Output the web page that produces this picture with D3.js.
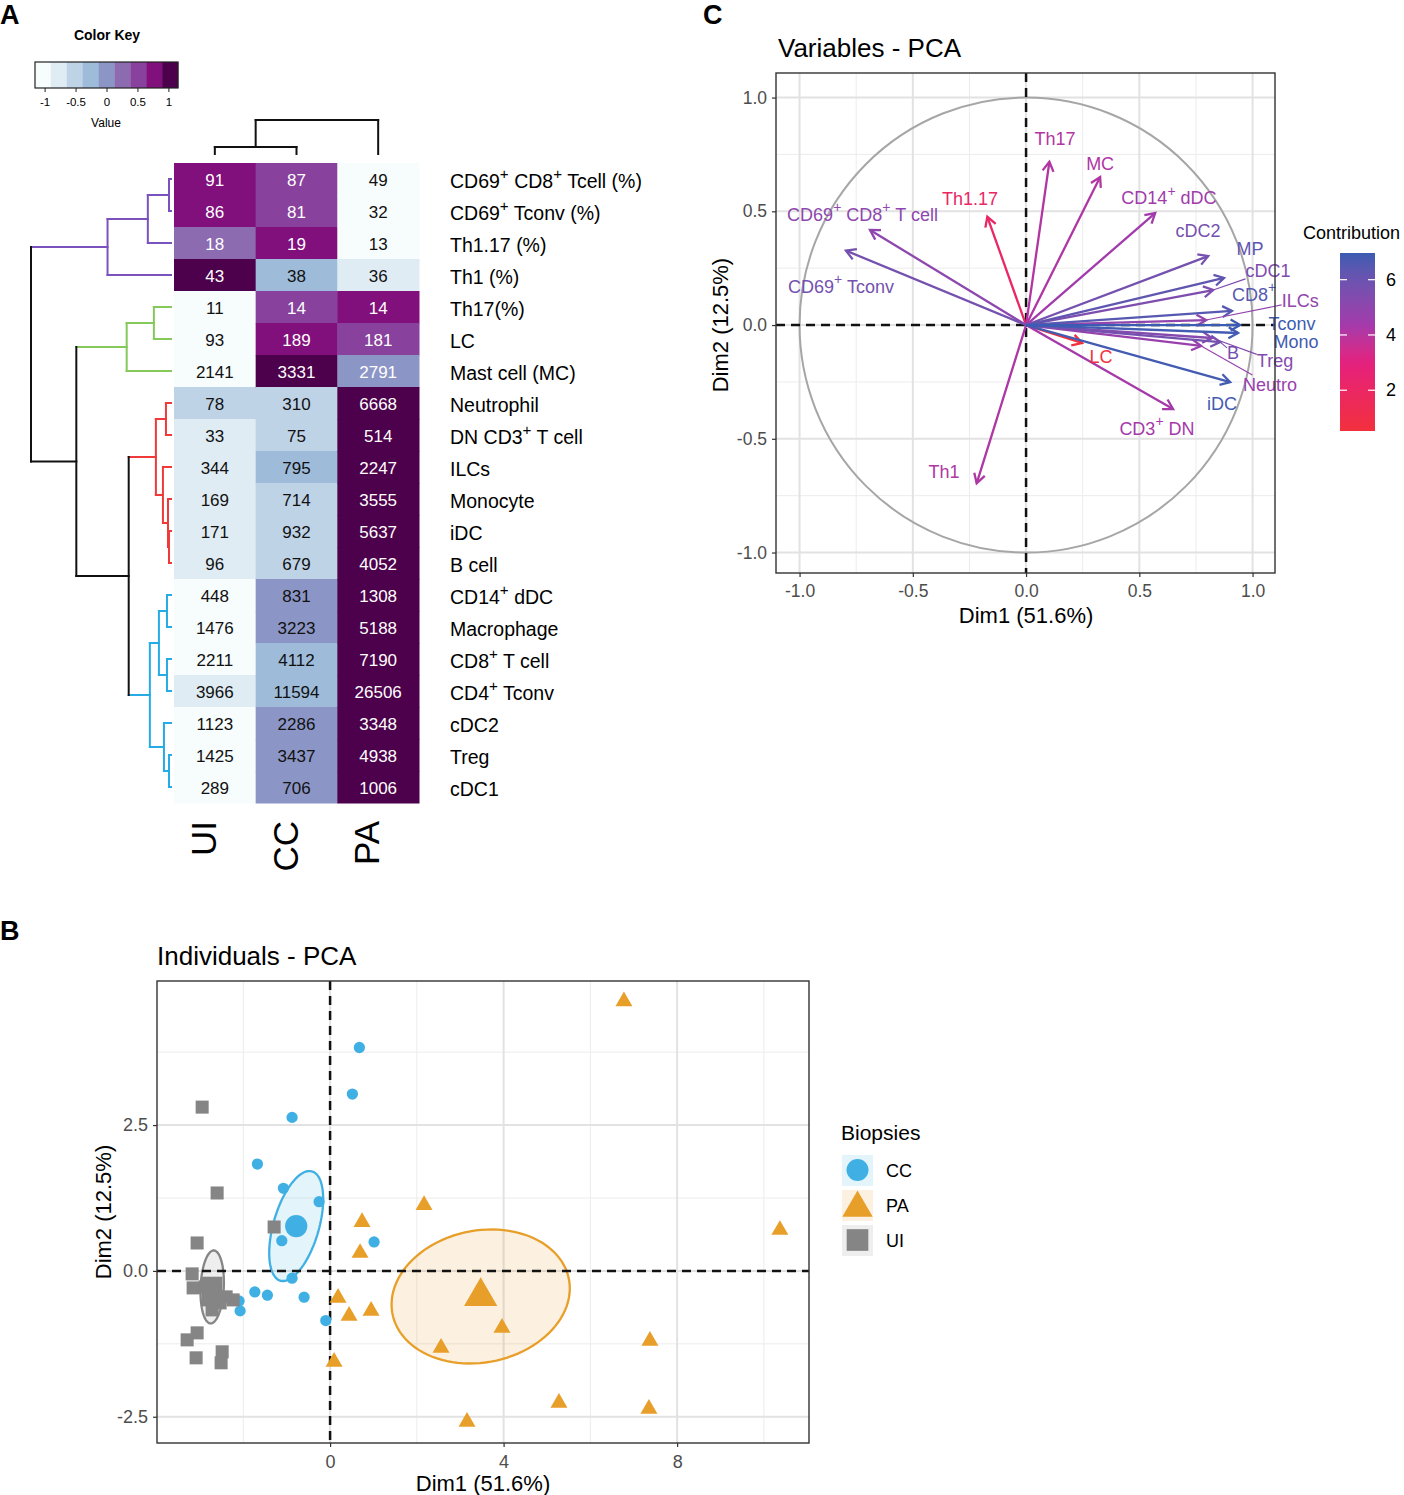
<!DOCTYPE html>
<html>
<head>
<meta charset="utf-8">
<script src="https://cdn.jsdelivr.net/npm/d3@7"></script>
<style>
  body { margin: 0; background: #fff; }
</style>
</head>
<body>
<svg id="fig" width="1404" height="1495"></svg>
<script>
// ---------------- data: heatmap (panel A) ----------------
var rowLabels = ["CD69^+ CD8^+ Tcell (%)", "CD69^+ Tconv (%)", "Th1.17 (%)", "Th1 (%)", "Th17(%)", "LC",
  "Mast cell (MC)", "Neutrophil", "DN CD3^+ T cell", "ILCs", "Monocyte", "iDC", "B cell", "CD14^+ dDC",
  "Macrophage", "CD8^+ T cell", "CD4^+ Tconv", "cDC2", "Treg", "cDC1"];
var colLabels = ["UI", "CC", "PA"];
var valUI = [91, 86, 18, 43, 11, 93, 2141, 78, 33, 344, 169, 171, 96, 448, 1476, 2211, 3966, 1123, 1425, 289];
var valCC = [87, 81, 19, 38, 14, 189, 3331, 310, 75, 795, 714, 932, 679, 831, 3223, 4112, 11594, 2286, 3437, 706];
var valPA = [49, 32, 13, 36, 14, 181, 2791, 6668, 514, 2247, 3555, 5637, 4052, 1308, 5188, 7190, 26506, 3348, 4938, 1006];
// row-scaled value of each cell
var keyUI = [0.75, 0.75, 0.25, 1, -1, -1, -1, -0.5, -0.75, -0.75, -0.75, -0.75, -0.75, -1, -1, -1, -0.75, -1, -1, -1];
var keyCC = [0.5, 0.5, 0.75, -0.25, 0.5, 0.75, 1, -0.5, -0.5, -0.25, -0.5, -0.5, -0.5, 0, 0, -0.25, -0.25, 0, 0, 0];
var keyPA = [-1, -1, -1, -0.75, 0.75, 0.5, 0.1, 1, 1, 1, 1, 1, 1, 1, 1, 1, 1, 1, 1, 1];
var keyTicks = [-1, -0.5, 0, 0.5, 1];

// dendrograms: h = merge height, k = children (numbers are leaf indices), g = cluster
var rowTree = {h: 139, k: [
  {h: 63, g: "purple", k: [{h: 23, k: [{h: 2, k: [0, 1]}, 2]}, 3]},
  {h: 94, k: [
    {h: 44, g: "green", k: [{h: 17, k: [4, 5]}, 6]},
    {h: 42, k: [
      {h: 15, g: "red", k: [{h: 5, k: [7, 8]}, {h: 8, k: [9, {h: 3, k: [10, {h: 2, k: [11, 12]}]}]}]},
      {h: 21, g: "blue", k: [{h: 12, k: [{h: 4, k: [13, 14]}, {h: 4, k: [15, 16]}]}, {h: 7, k: [17, {h: 2, k: [18, 19]}]}]}
    ]}
  ]}
]};
var colTree = {h: 34, k: [{h: 7, k: [0, 1]}, 2]};

// ---------------- data: variables PCA (panel C) ----------------
var varNames = ["CD69^+ CD8^+ T cell", "CD69^+ Tconv", "Th1.17", "Th1", "Th17", "LC", "MC", "Neutro", "CD3^+ DN",
  "ILCs", "Mono", "iDC", "B", "CD14^+ dDC", "MP", "CD8^+", "Tconv", "cDC2", "Treg", "cDC1"];
var varDim1 = [-0.689, -0.795, -0.171, -0.218, 0.103, 0.247, 0.327, 0.773, 0.649, 0.795, 0.936, 0.901, 0.857, 0.570, 0.874, 0.909, 0.945, 0.804, 0.821, 0.826];
var varDim2 = [0.418, 0.327, 0.476, -0.696, 0.718, -0.079, 0.651, -0.092, -0.369, 0.022, -0.035, -0.251, -0.075, 0.492, 0.207, 0.062, 0.0, 0.303, -0.057, 0.154];
var dimPct = [51.6, 12.5];

// ---------------- data: individuals PCA (panel B) ----------------
var ccDim1 = [0.675, 0.514, -0.876, -1.675, -1.076, -0.253, -1.113, 1.014, -0.876, -1.735, -1.445, -0.599, -2.097, -2.074, -0.099];
var ccDim2 = [3.830, 3.031, 2.632, 1.832, 1.416, 1.187, 0.519, 0.497, -0.125, -0.360, -0.416, -0.450, -0.514, -0.685, -0.851];
var paDim1 = [6.774, 2.166, 0.737, 0.691, 10.369, 0.184, 0.438, 0.945, 2.558, 3.963, 0.092, 7.373, 3.157, 5.276, 7.350];
var paDim2 = [4.623, 1.130, 0.839, 0.308, 0.702, -0.462, -0.771, -0.685, -1.318, -0.976, -1.558, -1.199, -2.586, -2.260, -2.363];
var uiDim1 = [-2.949, -2.604, -1.290, -3.065, -3.180, -3.157, -2.880, -2.650, -2.811, -2.535, -2.235, -3.065, -3.295, -3.088, -2.488, -2.512, -2.719, -2.396];
var uiDim2 = [2.808, 1.336, 0.753, 0.479, -0.051, -0.291, -0.274, -0.360, -0.497, -0.548, -0.497, -1.062, -1.182, -1.490, -1.387, -1.575, -0.668, -0.445];

// ---------------- layout for repelled labels in panel C (data units) ----------------
var labelDim1 = [-0.722, -0.817, -0.247, -0.362, 0.128, 0.331, 0.327, 1.077, 0.578, 1.210, 1.192, 0.865, 0.914, 0.631, 0.989, 1.007, 1.174, 0.759, 1.099, 1.068];
var labelDim2 = [0.484, 0.167, 0.554, -0.646, 0.818, -0.141, 0.708, -0.264, -0.457, 0.105, -0.075, -0.347, -0.123, 0.558, 0.334, 0.132, 0.004, 0.413, -0.158, 0.237];
var withLeader = ["Neutro", "ILCs", "B", "Treg", "cDC1"];

var FONT = "'Liberation Sans', Arial, Helvetica, sans-serif";
var svg = d3.select("#fig").attr("font-family", FONT);

// text with "^+" superscripts
function rich(sel, str, fs) {
  str.split("^+").forEach(function (p, i) {
    if (i > 0) {
      sel.append("tspan").attr("dy", -fs * 0.42).attr("font-size", fs * 0.78).text("+");
      sel.append("tspan").attr("dy", fs * 0.42).text(p);
    } else {
      sel.append("tspan").text(p);
    }
  });
}

// panel letters
[["A", 0, 24], ["C", 703, 24], ["B", 0, 940]].forEach(function (l) {
  svg.append("text").attr("x", l[1]).attr("y", l[2]).attr("font-size", 27)
    .attr("font-weight", "bold").text(l[0]);
});

// =============== Panel A ===============
var keyColors = d3.schemeBuPu[9];
var keyScale = d3.scaleQuantize().domain([-1.155, 1.155]).range(keyColors);

// colour key
var keyX = d3.scaleLinear().domain([-1.155, 1.155]).range([35, 178]);
svg.append("text").attr("x", 107).attr("y", 40).attr("text-anchor", "middle")
  .attr("font-size", 14).attr("font-weight", "bold").text("Color Key");
svg.selectAll(".keybin").data(keyColors).enter().append("rect")
  .attr("x", function (c) { return keyX(keyScale.invertExtent(c)[0]); })
  .attr("width", function (c) { var e = keyScale.invertExtent(c); return keyX(e[1]) - keyX(e[0]) + 0.3; })
  .attr("y", 62).attr("height", 26).attr("fill", function (c) { return c; });
svg.append("rect").attr("x", 35).attr("y", 62).attr("width", 143).attr("height", 26)
  .attr("fill", "none").attr("stroke", "#222").attr("stroke-width", 1.2);
var keyAxis = svg.append("g").attr("transform", "translate(0,88)")
  .call(d3.axisBottom(keyX).tickValues(keyTicks).tickSize(4).tickPadding(6).tickFormat(function (d) { return String(d); }));
keyAxis.select(".domain").remove();
keyAxis.attr("font-family", FONT).attr("font-size", 11.5);
keyAxis.selectAll("line").attr("stroke", "#222");
svg.append("text").attr("x", 106).attr("y", 127).attr("text-anchor", "middle").attr("font-size", 12).text("Value");

// heatmap cells
var colX = d3.scaleBand().domain(colLabels).range([174, 419]);
var rowY = d3.scaleBand().domain(d3.range(rowLabels.length)).range([163, 803]);
var columns = [{name: "UI", v: valUI, z: keyUI}, {name: "CC", v: valCC, z: keyCC}, {name: "PA", v: valPA, z: keyPA}];
columns.forEach(function (c) {
  var g = svg.append("g");
  g.selectAll("rect").data(c.v).enter().append("rect")
    .attr("x", colX(c.name)).attr("y", function (d, i) { return rowY(i); })
    .attr("width", colX.bandwidth() + 0.5).attr("height", rowY.bandwidth() + 0.5)
    .attr("fill", function (d, i) { return keyScale(c.z[i]); });
  g.selectAll("text").data(c.v).enter().append("text")
    .attr("x", colX(c.name) + colX.bandwidth() / 2)
    .attr("y", function (d, i) { return rowY(i) + rowY.bandwidth() / 2 + 1; })
    .attr("text-anchor", "middle").attr("dominant-baseline", "central").attr("font-size", 17)
    .attr("fill", function (d, i) { return c.z[i] > 0.05 ? "#fff" : "#111"; })
    .text(function (d) { return d; });
});

// row labels
rowLabels.forEach(function (lab, i) {
  var t = svg.append("text").attr("x", 450).attr("y", rowY(i) + rowY.bandwidth() / 2 + 2)
    .attr("dominant-baseline", "central").attr("font-size", 19.5);
  rich(t, lab, 19.5);
});

// column labels
colLabels.forEach(function (lab) {
  var x = colX(lab) + colX.bandwidth() / 2 + 1;
  svg.append("text").attr("transform", "translate(" + x + ",821) rotate(-90)")
    .attr("text-anchor", "end").attr("font-size", 35).text(lab);
});

// dendrograms
var clusterColour = {purple: "#7b52bd", green: "#84c95a", red: "#f03a3a", blue: "#25abe6"};
function drawDendro(g, node, pos, hs, rowWise, colour) {
  if (typeof node === "number") return {p: pos(node), h: 0};
  var col = node.g ? clusterColour[node.g] : colour;
  var kids = node.k.map(function (k) {
    var kc = (typeof k !== "number" && k.g) ? clusterColour[k.g] : col;
    return {r: drawDendro(g, k, pos, hs, rowWise, col), c: kc};
  });
  function seg(a1, b1, a2, b2, c) {
    // a = height axis, b = leaf axis
    var x1 = rowWise ? a1 : b1, y1 = rowWise ? b1 : a1, x2 = rowWise ? a2 : b2, y2 = rowWise ? b2 : a2;
    g.append("line").attr("x1", x1).attr("y1", y1).attr("x2", x2).attr("y2", y2)
      .attr("stroke", c).attr("stroke-width", 2).attr("stroke-linecap", "square");
  }
  var hn = hs(node.h);
  kids.forEach(function (k) { seg(hn, k.r.p, hs(k.r.h), k.r.p, k.c); });
  seg(hn, kids[0].r.p, hn, kids[kids.length - 1].r.p, col);
  return {p: (kids[0].r.p + kids[kids.length - 1].r.p) / 2, h: node.h};
}
var rowH = d3.scaleLinear().domain([0, rowTree.h]).range([171, 31]);
drawDendro(svg.append("g"), rowTree, function (i) { return rowY(i) + rowY.bandwidth() / 2; }, rowH, true, "#111");
var colH = d3.scaleLinear().domain([0, colTree.h]).range([154, 120]);
drawDendro(svg.append("g"), colTree, function (i) { return colX(colLabels[i]) + colX.bandwidth() / 2; }, colH, false, "#111");

// axis styling helper
function styleAxis(g, fs) {
  g.select(".domain").remove();
  g.attr("font-family", FONT).attr("font-size", fs);
  g.selectAll("text").attr("fill", "#4d4d4d");
  g.selectAll("line").attr("stroke", "#333").attr("stroke-width", 1.2);
}

// =============== Panel C ===============
var cx = d3.scaleLinear().domain([-1.104, 1.099]).range([776, 1275]);
var cy = d3.scaleLinear().domain([-1.090, 1.108]).range([573, 73]);
var cMajor = [-1, -0.5, 0, 0.5, 1], cMinor = [-0.75, -0.25, 0.25, 0.75];
var gc = svg.append("g");
gc.selectAll(".vminor").data(cMinor).enter().append("line")
  .attr("x1", cx).attr("x2", cx).attr("y1", 73).attr("y2", 573).attr("stroke", "#ececec").attr("stroke-width", 1);
gc.selectAll(".hminor").data(cMinor).enter().append("line")
  .attr("y1", cy).attr("y2", cy).attr("x1", 776).attr("x2", 1275).attr("stroke", "#ececec").attr("stroke-width", 1);
gc.selectAll(".vmajor").data(cMajor).enter().append("line")
  .attr("x1", cx).attr("x2", cx).attr("y1", 73).attr("y2", 573).attr("stroke", "#e2e2e2").attr("stroke-width", 2);
gc.selectAll(".hmajor").data(cMajor).enter().append("line")
  .attr("y1", cy).attr("y2", cy).attr("x1", 776).attr("x2", 1275).attr("stroke", "#e2e2e2").attr("stroke-width", 2);
gc.append("ellipse").attr("cx", cx(0)).attr("cy", cy(0))
  .attr("rx", cx(1) - cx(0)).attr("ry", cy(0) - cy(1))
  .attr("fill", "none").attr("stroke", "#a6a6a6").attr("stroke-width", 2);
gc.append("line").attr("x1", cx(0)).attr("x2", cx(0)).attr("y1", 73).attr("y2", 573)
  .attr("stroke", "#111").attr("stroke-width", 2.5).attr("stroke-dasharray", "9,6");
gc.append("line").attr("y1", cy(0)).attr("y2", cy(0)).attr("x1", 776).attr("x2", 1275)
  .attr("stroke", "#111").attr("stroke-width", 2.5).attr("stroke-dasharray", "9,6");

// contribution of each variable to Dim1+Dim2 (%)
var eigSum = (dimPct[0] + dimPct[1]) / 100 * varNames.length;
var contrib = varDim1.map(function (x, i) { return 100 * (x * x + varDim2[i] * varDim2[i]) / eigSum; });
var cExt = d3.extent(contrib);
var contribColour = d3.scaleLinear()
  .domain([cExt[0], 3.0, 4.4, cExt[1]])
  .range(["#f2303c", "#e4207e", "#a23aac", "#3b5cb2"])
  .interpolate(d3.interpolateLab);

var order = d3.range(varNames.length).sort(function (a, b) { return contrib[a] - contrib[b]; });
order.forEach(function (i) {
  var x0 = cx(0), y0 = cy(0), x1 = cx(varDim1[i]), y1 = cy(varDim2[i]);
  var col = contribColour(contrib[i]);
  var ang = Math.atan2(y1 - y0, x1 - x0), L = 11, a = Math.PI / 6;
  gc.append("line").attr("x1", x0).attr("y1", y0).attr("x2", x1).attr("y2", y1)
    .attr("stroke", col).attr("stroke-width", 2.3);
  gc.append("path")
    .attr("d", "M" + (x1 - L * Math.cos(ang - a)) + "," + (y1 - L * Math.sin(ang - a)) +
      "L" + x1 + "," + y1 + "L" + (x1 - L * Math.cos(ang + a)) + "," + (y1 - L * Math.sin(ang + a)))
    .attr("fill", "none").attr("stroke", col).attr("stroke-width", 2.3).attr("stroke-linejoin", "miter");
});
varNames.forEach(function (name, i) {
  var col = contribColour(contrib[i]);
  var t = gc.append("text").attr("x", cx(labelDim1[i])).attr("y", cy(labelDim2[i]))
    .attr("text-anchor", "middle").attr("dominant-baseline", "central")
    .attr("font-size", 18).attr("fill", col);
  rich(t, name, 18);
  if (withLeader.indexOf(name) >= 0) {
    var b = t.node().getBBox();
    var px = cx(varDim1[i]), py = cy(varDim2[i]);
    var mx = b.x + b.width / 2, my = b.y + b.height / 2;
    var dx = px - mx, dy = py - my;
    var s = Math.min(Math.abs((b.width / 2) / (dx || 1e-9)), Math.abs((b.height / 2) / (dy || 1e-9)));
    gc.append("line").attr("x1", mx + dx * s).attr("y1", my + dy * s).attr("x2", px).attr("y2", py)
      .attr("stroke", col).attr("stroke-width", 1.1);
  }
});
gc.append("rect").attr("x", 776).attr("y", 73).attr("width", 499).attr("height", 500)
  .attr("fill", "none").attr("stroke", "#333").attr("stroke-width", 1.4);

var cxAxis = svg.append("g").attr("transform", "translate(0,573)")
  .call(d3.axisBottom(cx).tickValues(cMajor).tickSize(4).tickPadding(8).tickFormat(function (d) { return d.toFixed(1); }));
styleAxis(cxAxis, 17.5);
var cyAxis = svg.append("g").attr("transform", "translate(776,0)")
  .call(d3.axisLeft(cy).tickValues(cMajor).tickSize(4).tickPadding(5).tickFormat(function (d) { return d.toFixed(1); }));
styleAxis(cyAxis, 17.5);

svg.append("text").attr("x", 778).attr("y", 57).attr("font-size", 26).text("Variables - PCA");
svg.append("text").attr("x", cx(0)).attr("y", 623).attr("text-anchor", "middle").attr("font-size", 22)
  .text("Dim1 (" + dimPct[0] + "%)");
svg.append("text").attr("transform", "translate(728," + cy(0) + ") rotate(-90)").attr("text-anchor", "middle")
  .attr("font-size", 22).text("Dim2 (" + dimPct[1] + "%)");

// contribution legend
svg.append("text").attr("x", 1303).attr("y", 239).attr("font-size", 18).text("Contribution");
var legY = d3.scaleLinear().domain(cExt).range([431, 253]);
var grad = svg.append("defs").append("linearGradient").attr("id", "cgrad")
  .attr("x1", 0).attr("y1", 1).attr("x2", 0).attr("y2", 0);
d3.range(0, 1.0001, 0.05).forEach(function (f) {
  grad.append("stop").attr("offset", f).attr("stop-color", contribColour(cExt[0] + f * (cExt[1] - cExt[0])));
});
svg.append("rect").attr("x", 1340).attr("y", 253).attr("width", 35).attr("height", 178).attr("fill", "url(#cgrad)");
[2, 4, 6].forEach(function (v) {
  var y = legY(v);
  svg.append("line").attr("x1", 1340).attr("x2", 1347).attr("y1", y).attr("y2", y).attr("stroke", "#fff").attr("stroke-width", 1.2);
  svg.append("line").attr("x1", 1368).attr("x2", 1375).attr("y1", y).attr("y2", y).attr("stroke", "#fff").attr("stroke-width", 1.2);
  svg.append("text").attr("x", 1386).attr("y", y).attr("dominant-baseline", "central").attr("font-size", 18).text(v);
});

// =============== Panel B ===============
var bx = d3.scaleLinear().domain([-3.99, 11.04]).range([157, 809]);
var by = d3.scaleLinear().domain([-2.95, 4.97]).range([1443, 981]);
var bxMajor = [0, 4, 8], bxMinor = [-2, 2, 6, 10];
var byMajor = [-2.5, 0, 2.5], byMinor = [-1.25, 1.25, 3.75];
var gb = svg.append("g");
gb.selectAll(".vminor").data(bxMinor).enter().append("line")
  .attr("x1", bx).attr("x2", bx).attr("y1", 981).attr("y2", 1443).attr("stroke", "#ececec").attr("stroke-width", 1);
gb.selectAll(".hminor").data(byMinor).enter().append("line")
  .attr("y1", by).attr("y2", by).attr("x1", 157).attr("x2", 809).attr("stroke", "#ececec").attr("stroke-width", 1);
gb.selectAll(".vmajor").data(bxMajor).enter().append("line")
  .attr("x1", bx).attr("x2", bx).attr("y1", 981).attr("y2", 1443).attr("stroke", "#e2e2e2").attr("stroke-width", 2);
gb.selectAll(".hmajor").data(byMajor).enter().append("line")
  .attr("y1", by).attr("y2", by).attr("x1", 157).attr("x2", 809).attr("stroke", "#e2e2e2").attr("stroke-width", 2);

var groups = [
  {name: "CC", x: ccDim1, y: ccDim2, colour: "#40b0e4", shape: d3.symbolCircle, size: 100, meanSize: 390, keySize: 380},
  {name: "PA", x: paDim1, y: paDim2, colour: "#e89f2a", shape: d3.symbolTriangle, size: 125, meanSize: 480, keySize: 400},
  {name: "UI", x: uiDim1, y: uiDim2, colour: "#858585", shape: d3.symbolSquare, size: 170, meanSize: 420, keySize: 470}
];

// 95% confidence ellipse of the group mean
function confEllipse(xs, ys) {
  var n = xs.length, mx = d3.mean(xs), my = d3.mean(ys);
  var a = d3.variance(xs) / n, c = d3.variance(ys) / n;
  var b = d3.sum(xs, function (x, i) { return (x - mx) * (ys[i] - my); }) / (n - 1) / n;
  var tr = (a + c) / 2, disc = Math.sqrt((a - c) * (a - c) / 4 + b * b);
  var l1 = tr + disc, l2 = tr - disc, th = 0.5 * Math.atan2(2 * b, a - c);
  var t = Math.sqrt(5.991464547);
  return d3.range(0, 101).map(function (k) {
    var p = 2 * Math.PI * k / 100;
    var u = t * Math.sqrt(l1) * Math.cos(p), v = t * Math.sqrt(Math.max(l2, 0)) * Math.sin(p);
    return [mx + u * Math.cos(th) - v * Math.sin(th), my + u * Math.sin(th) + v * Math.cos(th)];
  });
}
var ellLine = d3.line().x(function (d) { return bx(d[0]); }).y(function (d) { return by(d[1]); });
groups.forEach(function (g) {
  gb.append("path").attr("d", ellLine(confEllipse(g.x, g.y)) + "Z")
    .attr("fill", g.colour).attr("fill-opacity", 0.14)
    .attr("stroke", g.colour).attr("stroke-width", 2.3);
});
gb.append("line").attr("x1", bx(0)).attr("x2", bx(0)).attr("y1", 981).attr("y2", 1443)
  .attr("stroke", "#111").attr("stroke-width", 2.5).attr("stroke-dasharray", "9,6");
gb.append("line").attr("y1", by(0)).attr("y2", by(0)).attr("x1", 157).attr("x2", 809)
  .attr("stroke", "#111").attr("stroke-width", 2.5).attr("stroke-dasharray", "9,6");
groups.forEach(function (g) {
  var sym = d3.symbol().type(g.shape).size(g.size);
  gb.selectAll(null).data(g.x).enter().append("path").attr("d", sym)
    .attr("transform", function (d, i) { return "translate(" + bx(d) + "," + by(g.y[i]) + ")"; })
    .attr("fill", g.colour);
});
groups.forEach(function (g) {
  gb.append("path").attr("d", d3.symbol().type(g.shape).size(g.meanSize))
    .attr("transform", "translate(" + bx(d3.mean(g.x)) + "," + by(d3.mean(g.y)) + ")")
    .attr("fill", g.colour);
});
gb.append("rect").attr("x", 157).attr("y", 981).attr("width", 652).attr("height", 462)
  .attr("fill", "none").attr("stroke", "#333").attr("stroke-width", 1.4);

var bxAxis = svg.append("g").attr("transform", "translate(0,1443)")
  .call(d3.axisBottom(bx).tickValues(bxMajor).tickSize(4).tickPadding(8).tickFormat(function (d) { return String(d); }));
styleAxis(bxAxis, 18);
var byAxis = svg.append("g").attr("transform", "translate(157,0)")
  .call(d3.axisLeft(by).tickValues(byMajor).tickSize(4).tickPadding(5).tickFormat(function (d) { return d.toFixed(1); }));
styleAxis(byAxis, 18);

svg.append("text").attr("x", 157).attr("y", 965).attr("font-size", 26).text("Individuals - PCA");
svg.append("text").attr("x", 483).attr("y", 1491).attr("text-anchor", "middle").attr("font-size", 22)
  .text("Dim1 (" + dimPct[0] + "%)");
svg.append("text").attr("transform", "translate(111," + 1212 + ") rotate(-90)").attr("text-anchor", "middle")
  .attr("font-size", 22).text("Dim2 (" + dimPct[1] + "%)");

// legend
svg.append("text").attr("x", 841).attr("y", 1140).attr("font-size", 21).text("Biopsies");
groups.forEach(function (g, i) {
  var yc = 1170 + i * 35;
  svg.append("rect").attr("x", 842).attr("y", yc - 15).attr("width", 31).attr("height", 31)
    .attr("fill", g.colour).attr("fill-opacity", 0.14);
  svg.append("path").attr("d", d3.symbol().type(g.shape).size(g.keySize))
    .attr("transform", "translate(857.5," + (yc + (g.name === "PA" ? 3 : 0)) + ")").attr("fill", g.colour);
  svg.append("text").attr("x", 886).attr("y", yc + 1).attr("dominant-baseline", "central")
    .attr("font-size", 18).text(g.name);
});
</script>
</body>
</html>
